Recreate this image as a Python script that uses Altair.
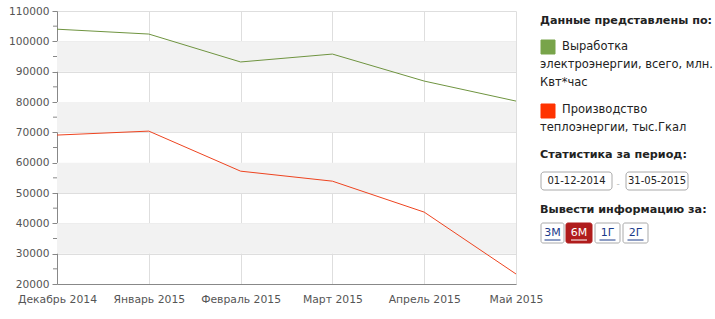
import altair as alt
import pandas as pd

months = ["Декабрь 2014", "Январь 2015", "Февраль 2015", "Март 2015", "Апрель 2015", "Май 2015"]
electricity = [104000, 102400, 93200, 95800, 86900, 80300]
heat = [69100, 70400, 57200, 53900, 43700, 23300]
series_names = ["Выработка электроэнергии, всего, млн. Квт*час",
                "Производство теплоэнергии, тыс.Гкал"]
series_colors = ["#6f9440", "#ee4420"]
y_ticks = [20000, 30000, 40000, 50000, 60000, 70000, 80000, 90000, 100000, 110000]
minor_ticks = [25000, 35000, 45000, 55000, 65000, 75000, 85000, 95000, 105000]
band_lo = [90000, 70000, 50000, 30000]
band_hi = [100000, 80000, 60000, 40000]

W, H = 459, 273
FONT = "DejaVu Sans"

rows = []
for m, e, h in zip(months, electricity, heat):
    rows.append({"month": m, "value": e, "series": series_names[0]})
    rows.append({"month": m, "value": h, "series": series_names[1]})
df = pd.DataFrame(rows)

yscale = alt.Scale(domain=[20000, 110000], nice=False, zero=False)
xscale = alt.Scale(type="point", padding=0)
yaxis = alt.Axis(values=y_ticks, format="d", grid=True, gridColor="#dedede",
                 domainColor="#888", tickColor="#888", tickSize=5,
                 labelColor="#555", labelFont=FONT, labelFontSize=10.6,
                 labelPadding=3, title=None)

bands = alt.Chart(pd.DataFrame({"lo": band_lo, "hi": band_hi})).mark_rect(
    fill="#f2f2f2"
).encode(
    x=alt.value(0), x2=alt.value(W),
    y=alt.Y("lo:Q", scale=yscale, axis=yaxis, title=None), y2="hi:Q",
)

lines = alt.Chart(df).mark_line(strokeWidth=1).encode(
    x=alt.X("month:N", sort=months, scale=xscale, title=None,
            axis=alt.Axis(labelAngle=0, ticks=False, grid=True, gridColor="#dedede",
                          domainColor="#888", labelColor="#555", labelFont=FONT,
                          labelFontSize=10.8, labelPadding=9, labelOverlap=False)),
    y=alt.Y("value:Q", scale=yscale, title=None, axis=yaxis),
    color=alt.Color("series:N", scale=alt.Scale(domain=series_names, range=series_colors),
                    legend=None),
    detail="series:N",
)

minor = alt.Chart(pd.DataFrame({"v": minor_ticks})).mark_rule(color="#888").encode(
    y=alt.Y("v:Q", scale=yscale, axis=yaxis, title=None), x=alt.value(-4), x2=alt.value(0)
)


def one():
    return alt.InlineData(values=[{}])


def txt(s, x, y, size=11.5, bold=False, color="#222", align="left"):
    return alt.Chart(one()).mark_text(
        align=align, baseline="middle", font=FONT, fontSize=size,
        fontWeight="bold" if bold else "normal", color=color
    ).encode(x=alt.value(x), y=alt.value(y), text=alt.value(s))


def box(x1, x2, y1, y2, fill="white", stroke="#aaa", r=2):
    return alt.Chart(one()).mark_rect(
        fill=fill, stroke=stroke, strokeWidth=1, cornerRadius=r
    ).encode(x=alt.value(x1), x2=alt.value(x2), y=alt.value(y1), y2=alt.value(y2))


def uline(x1, x2, y, color):
    return alt.Chart(one()).mark_rule(color=color, strokeWidth=1).encode(
        x=alt.value(x1), x2=alt.value(x2), y=alt.value(y))


px = 483
panel = [
    txt("Данные представлены по:", px, 10, size=11.2, bold=True),
    box(484, 498, 29, 43, fill="#78a44a", stroke="#78a44a", r=0),
    txt("Выработка", 505, 36),
    txt("электроэнергии, всего, млн.", px, 54),
    txt("Квт*час", px, 72),
    box(484, 498, 93, 107, fill="#ff3300", stroke="#ff3300", r=0),
    txt("Производство", 505, 99),
    txt("теплоэнергии, тыс.Гкал", px, 117),
    txt("Статистика за период:", px, 144, size=11.2, bold=True),
    box(484, 555, 161, 179, r=3),
    txt("01-12-2014", 519.5, 170, size=10, align="center"),
    txt("-", 561, 173, size=9, color="#bbb", align="center"),
    box(569, 631, 161, 179, r=3),
    txt("31-05-2015", 600, 170, size=10, align="center"),
    txt("Вывести информацию за:", px, 199, size=11.2, bold=True),
]
buttons = [("3М", 484, 507, False), ("6М", 509, 535, True),
           ("1Г", 538, 563, False), ("2Г", 566, 591, False)]
for lab, a, b, active in buttons:
    panel.append(box(a, b, 212, 232, fill="#b01c1c" if active else "white",
                     stroke="#b01c1c" if active else "#aaa", r=2))
    c = "white" if active else "#1a3a8a"
    mid = (a + b) / 2
    panel.append(txt(lab, mid, 222, size=11, color=c, align="center"))
    panel.append(uline(mid - 8, mid + 8, 229, c))

chart = alt.layer(bands, minor, lines, *panel).properties(
    width=W, height=H,
    autosize=alt.AutoSizeParams(type="none"),
    padding={"left": 57, "top": 11, "right": 715 - 57 - W, "bottom": 319 - 11 - H},
    background="white",
).configure_view(stroke=None)

chart.save("out.html", embed_options={"renderer": "svg", "actions": False})
